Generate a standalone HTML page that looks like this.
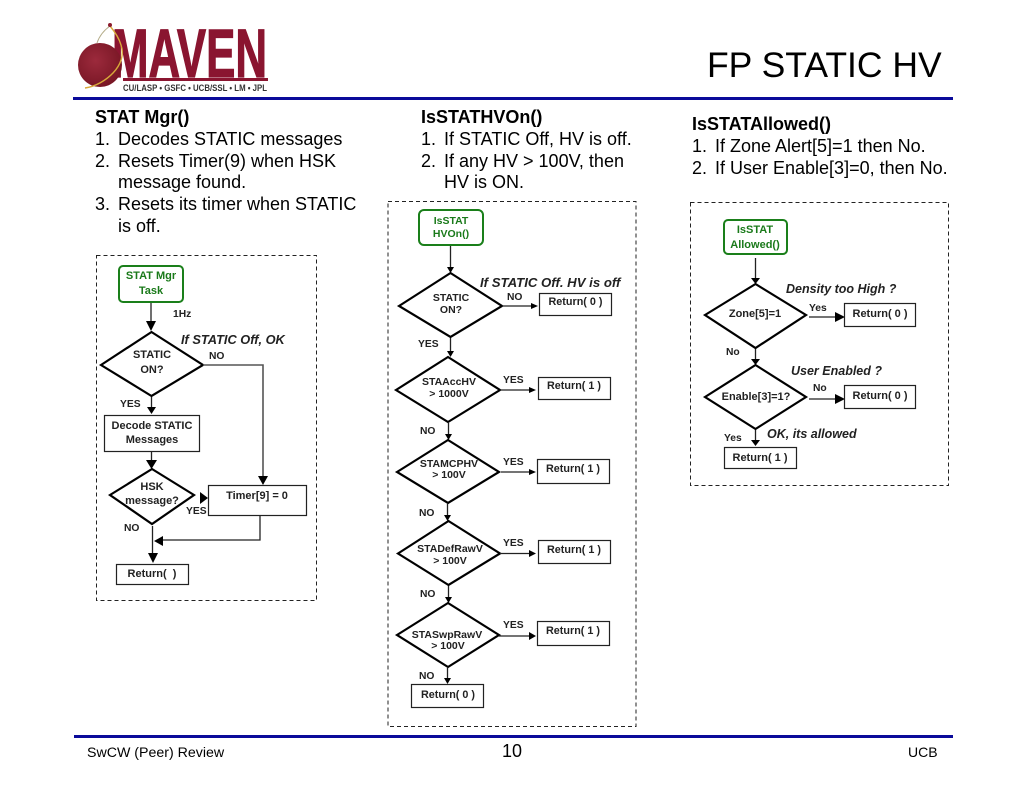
<!DOCTYPE html>
<html><head><meta charset="utf-8"><style>
html,body{margin:0;padding:0;background:#fff}
svg{display:block}
text{font-family:"Liberation Sans",sans-serif;fill:#000}
.b{font-size:18px}
.t{font-size:11px;font-weight:bold;text-anchor:middle;fill:#222}
.l{font-size:10.3px;font-weight:bold;fill:#222}
.g{font-size:11px;font-weight:bold;text-anchor:middle;fill:#1a7a1a}
.i{font-size:12.5px;font-weight:bold;font-style:italic;fill:#222}
.s{fill:#fff;stroke:#222;stroke-width:1.2}
.d{fill:#fff;stroke:#000;stroke-width:2.2}
.gr{fill:#fff;stroke:#1a7f1a;stroke-width:2}
.c{stroke:#222;stroke-width:1.3;fill:none}
.a{fill:#000}
.p{fill:#fff;stroke:#222;stroke-width:1;stroke-dasharray:4 3}
.f2 .t,.f2 .g{font-size:10.5px}
.f2 .r{font-size:10.8px}
</style></head><body>
<svg width="1024" height="791" viewBox="0 0 1024 791" xmlns="http://www.w3.org/2000/svg">
<defs><radialGradient id="m" cx="0.4" cy="0.4" r="0.7"><stop offset="0" stop-color="#9c2a3c"/><stop offset="1" stop-color="#741422"/></radialGradient></defs>
<!-- logo -->
<text x="112" y="77" font-size="69" font-weight="bold" textLength="155" lengthAdjust="spacingAndGlyphs" style="fill:#8a1530;stroke:#8a1530;stroke-width:1.2">MAVEN</text>
<circle cx="100" cy="65" r="22" fill="url(#m)"/>
<path d="M85 88 C105 85 128 65 121 45 C119 38 115 32 110 26" fill="none" stroke="#d8a93a" stroke-width="1.4"/>
<path d="M110 26 C103 31 99 37 97 43" fill="none" stroke="#b5ad8a" stroke-width="1"/>
<circle cx="110" cy="25" r="2" fill="#8c1c2c"/>
<rect x="123" y="78" width="145" height="3" fill="#8a1530"/>
<text x="123" y="91" font-size="9" font-weight="bold" textLength="144" lengthAdjust="spacingAndGlyphs" style="fill:#333">CU/LASP • GSFC • UCB/SSL • LM • JPL</text>
<text x="707" y="77" font-size="35.500">FP STATIC HV</text>
<rect x="73" y="97" width="880" height="3" fill="#0a0a9a"/>
<rect x="74" y="735" width="879" height="3" fill="#0a0a9a"/>
<text x="87" y="757" font-size="14.200">SwCW (Peer) Review</text>
<text x="502" y="757" font-size="18">10</text>
<text x="908" y="757" font-size="14">UCB</text>

<!-- column text -->
<text class="b" x="95" y="123" font-weight="bold">STAT Mgr()</text>
<text class="b" x="95" y="145">1.</text><text class="b" x="118" y="145">Decodes STATIC messages</text>
<text class="b" x="95" y="167">2.</text><text class="b" x="118" y="167">Resets Timer(9) when HSK</text>
<text class="b" x="118" y="188">message found.</text>
<text class="b" x="95" y="210">3.</text><text class="b" x="118" y="210">Resets its timer when STATIC</text>
<text class="b" x="118" y="232">is off.</text>

<text class="b" x="421" y="123" font-weight="bold">IsSTATHVOn()</text>
<text class="b" x="421" y="145">1.</text><text class="b" x="444" y="145">If STATIC Off, HV is off.</text>
<text class="b" x="421" y="167">2.</text><text class="b" x="444" y="167">If any HV &gt; 100V, then</text>
<text class="b" x="444" y="188">HV is ON.</text>

<text class="b" x="692" y="130" font-weight="bold">IsSTATAllowed()</text>
<text class="b" x="692" y="152">1.</text><text class="b" x="715" y="152">If Zone Alert[5]=1 then No.</text>
<text class="b" x="692" y="174">2.</text><text class="b" x="715" y="174">If User Enable[3]=0, then No.</text>

<!-- panels -->
<rect class="p" x="96.500" y="255.500" width="220" height="345"/>
<rect class="p" x="388" y="201.500" width="248" height="525"/>
<rect class="p" x="690.500" y="202.500" width="258" height="283"/>

<!-- flow 1 -->
<rect class="gr" x="119" y="266" width="64" height="36" rx="4"/>
<text class="g" x="151" y="279">STAT Mgr</text><text class="g" x="151" y="294">Task</text>
<path class="c" d="M151 303V323"/><path class="a" d="M146 321h10l-5 10z"/>
<text class="l" x="173" y="317">1Hz</text>
<polygon class="d" points="101,365 151.500,332 203,365 151.500,396"/>
<text class="t" x="152" y="358">STATIC</text><text class="t" x="152" y="373">ON?</text>
<text class="i" x="181" y="344" style="font-size:12.800px">If STATIC Off, OK</text>
<text class="l" x="209" y="359">NO</text>
<text class="l" x="120" y="407">YES</text>
<path class="c" d="M151.500 397V408"/><path class="a" d="M147 407h9l-4.500 7z"/>
<rect class="s" x="104.500" y="415.500" width="95" height="36"/>
<text class="t" x="152" y="429">Decode STATIC</text><text class="t" x="152" y="443">Messages</text>
<path class="c" d="M151.500 452V462"/><path class="a" d="M146 460h11l-5.500 9z"/>
<polygon class="d" points="110,495 152,469 194,495 152,524"/>
<text class="t" x="152" y="490">HSK</text><text class="t" x="152" y="504">message?</text>
<path class="a" d="M200 492l8 6-8 6z"/>
<text class="l" x="186" y="514">YES</text>
<path d="M203 365H263V478" fill="none" stroke="#555" stroke-width="1.600"/><path class="a" d="M258 476h10l-5 9z"/>
<rect class="s" x="208.500" y="485.500" width="98" height="30"/>
<text class="t" x="257" y="499">Timer[9] = 0</text>
<path class="c" d="M260 515V540H160"/><path class="a" d="M154 541l9-5v10z"/>
<text class="l" x="124" y="531">NO</text>
<path class="c" d="M152.500 526V558"/><path class="a" d="M148 553h10l-5 10z"/>
<rect class="s" x="116.500" y="564.500" width="72" height="20"/>
<text class="t" x="152" y="577">Return(&#160;&#160;)</text>

<!-- flow 2 -->
<g class="f2">
<rect class="gr" x="419" y="210" width="64" height="35" rx="5"/>
<text class="g" x="451" y="224">IsSTAT</text><text class="g" x="451" y="237">HVOn()</text>
<path class="c" d="M450.500 246V268"/><path class="a" d="M447 267h7l-3.500 6z"/>
<polygon class="d" points="399,306 450.500,273 502,306 450.500,337"/>
<text class="t" x="451" y="301">STATIC</text><text class="t" x="451" y="313">ON?</text>
<text class="i" x="480" y="287" style="font-size:13.200px">If STATIC Off. HV is off</text>
<text class="l" x="507" y="300">NO</text>
<path class="c" d="M502 306H532"/><path class="a" d="M531 303l7 3-7 3z"/>
<rect class="s" x="539.500" y="293.500" width="72" height="22"/>
<text class="t r" x="575.500" y="305">Return( 0 )</text>
<text class="l" x="418" y="347">YES</text>
<path class="c" d="M450.500 338V352"/><path class="a" d="M447 351h7l-3.500 6z"/>

<polygon class="d" points="396,390 448,357 500,390 448,422"/>
<text class="t" x="449" y="385">STAAccHV</text><text class="t" x="449" y="397">&gt; 1000V</text>
<text class="l" x="503" y="383">YES</text>
<path class="c" d="M500 390H530"/><path class="a" d="M529 387l7 3-7 3z"/>
<rect class="s" x="538.500" y="377.500" width="72" height="22"/>
<text class="t r" x="574" y="389">Return( 1 )</text>
<text class="l" x="420" y="434">NO</text>
<path class="c" d="M448.500 423V435"/><path class="a" d="M445 434h7l-3.500 6z"/>

<polygon class="d" points="397,472 448,440 499,472 448,503"/>
<text class="t" x="449" y="467">STAMCPHV</text><text class="t" x="449" y="478">&gt; 100V</text>
<text class="l" x="503" y="465">YES</text>
<path class="c" d="M501 472H530"/><path class="a" d="M529 469l7 3-7 3z"/>
<rect class="s" x="537.500" y="459.500" width="72" height="24"/>
<text class="t r" x="573" y="472">Return( 1 )</text>
<text class="l" x="419" y="516">NO</text>
<path class="c" d="M447.500 504V516"/><path class="a" d="M444 515h7l-3.500 6z"/>

<polygon class="d" points="398,553.500 448.500,521 500,553.500 448.500,585"/>
<text class="t" x="450" y="552">STADefRawV</text><text class="t" x="450" y="564">&gt; 100V</text>
<text class="l" x="503" y="546">YES</text>
<path class="c" d="M500 553.500H530"/><path class="a" d="M529 550l7 3.500-7 3.500z"/>
<rect class="s" x="538.500" y="540.500" width="72" height="23"/>
<text class="t r" x="574" y="553">Return( 1 )</text>
<text class="l" x="420" y="597">NO</text>
<path class="c" d="M448.500 586V598"/><path class="a" d="M445 597h7l-3.500 6z"/>

<polygon class="d" points="397,635 448,603 499,635 448,667"/>
<text class="t" x="447" y="638">STASwpRawV</text><text class="t" x="448" y="649">&gt; 100V</text>
<text class="l" x="503" y="628">YES</text>
<path class="c" d="M499 636H530"/><path class="a" d="M529 632l7 4-7 4z"/>
<rect class="s" x="537.500" y="621.500" width="72" height="24"/>
<text class="t r" x="573" y="634">Return( 1 )</text>
<text class="l" x="419" y="679">NO</text>
<path class="c" d="M447.500 668V679"/><path class="a" d="M444 678h7l-3.500 6z"/>
<rect class="s" x="411.500" y="684.500" width="72" height="23"/>
<text class="t r" x="448" y="698">Return( 0 )</text>
</g>

<!-- flow 3 -->
<rect class="gr" x="724" y="220" width="63" height="34" rx="4"/>
<text class="g" x="755" y="233">IsSTAT</text><text class="g" x="755" y="248">Allowed()</text>
<path class="c" d="M755.500 258V279"/><path class="a" d="M751 278h9l-4.500 6z"/>
<polygon class="d" points="705,315 755.500,284 806,315 755.500,348"/>
<text class="t" x="755" y="317">Zone[5]=1</text>
<text class="i" x="786" y="293">Density too High ?</text>
<text class="l" x="809" y="311">Yes</text>
<path class="c" d="M809 317H836"/><path class="a" d="M835 312l10 5-10 5z"/>
<rect class="s" x="844.500" y="303.500" width="71" height="23"/>
<text class="t" x="880" y="317">Return( 0 )</text>
<text class="l" x="726" y="355">No</text>
<path class="c" d="M755.500 349V360"/><path class="a" d="M751 359h9l-4.500 6z"/>
<polygon class="d" points="705,397 755.500,365 806,397 755.500,429"/>
<text class="t" x="756" y="400">Enable[3]=1?</text>
<text class="i" x="791" y="375">User Enabled ?</text>
<text class="l" x="813" y="391">No</text>
<path class="c" d="M809 399H836"/><path class="a" d="M835 394l10 5-10 5z"/>
<rect class="s" x="844.500" y="385.500" width="71" height="23"/>
<text class="t" x="880" y="399">Return( 0 )</text>
<text class="l" x="724" y="441">Yes</text>
<text class="i" x="767" y="438">OK, its allowed</text>
<path class="c" d="M755.500 430V441"/><path class="a" d="M751 440h9l-4.500 6z"/>
<rect class="s" x="724.500" y="447.500" width="72" height="21"/>
<text class="t" x="760" y="461">Return( 1 )</text>
</svg>
</body></html>
